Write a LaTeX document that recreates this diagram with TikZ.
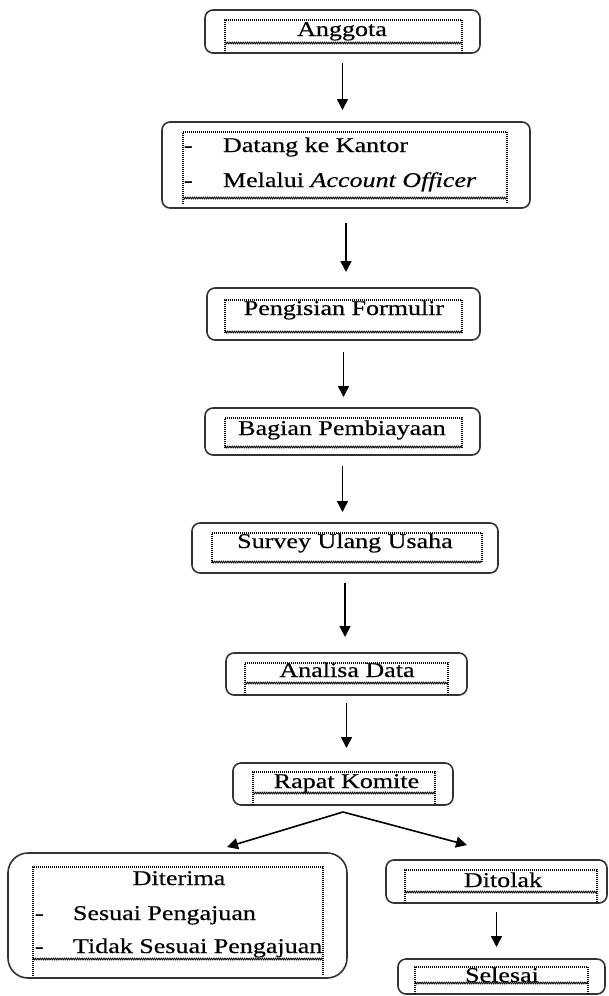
\documentclass[tikz,border=0pt]{standalone}
\usepackage{fontspec}
\setmainfont{Liberation Serif}[FakeStretch=1.24, FakeBold=0.4,
  ItalicFont=Liberation Serif Italic, ItalicFeatures={FakeStretch=1.24, FakeBold=0.4}]
\usetikzlibrary{arrows.meta,decorations.pathmorphing}
\begin{document}
\begin{tikzpicture}[x=1pt,y=-1pt,
  obox/.style={draw=black!80, line width=1.6pt, rounded corners=8pt, inner sep=0pt, outer sep=0pt},
  txt/.style={inner sep=0pt, outer sep=0pt, font=\fontsize{21}{25}\selectfont},
  frm/.style={line width=1.1pt, dash pattern=on 1pt off 1pt, black},
  wav/.style={line width=0.8pt, black, decorate, decoration={zigzag, amplitude=0.9pt, segment length=2.2pt}},
  arr/.style={line width=1.6pt, -{Triangle[length=11pt,width=11pt]}}]
\useasboundingbox (0,0) rectangle (609,996);

% outer boxes
\node[obox, minimum width=275pt, minimum height=43pt] (anggota) at (342.5,31.5) {};
\node[obox, minimum width=368pt, minimum height=86pt] (datang) at (346,165) {};
\node[obox, minimum width=273pt, minimum height=52pt] (isi) at (343.5,314) {};
\node[obox, minimum width=275pt, minimum height=47pt] (bagian) at (342.5,431.5) {};
\node[obox, minimum width=306pt, minimum height=50pt] (survey) at (345,548) {};
\node[obox, minimum width=241pt, minimum height=42pt] (analisa) at (346.5,674) {};
\node[obox, minimum width=220pt, minimum height=42pt] (rapat) at (343,784) {};
\node[obox, rounded corners=20pt, minimum width=339pt, minimum height=125pt] (terima) at (177.5,915.5) {};
\node[obox, minimum width=221pt, minimum height=43pt] (tolak) at (496.5,881.5) {};
\node[obox, minimum width=207pt, minimum height=35pt] (selesai) at (501.5,976.5) {};

% dotted text frames
\foreach \l/\r/\t/\w/\b in {225/462/20/43/53, 183/507/132/198/204, 225/462/300/332/333,
  225/462/418/447/448, 212/482/533/562/563, 245/448/663/683/695, 253/435/772/793/805,
  33/323/867/959/976, 405/597/870/892/903, 415/588/967/983/994}{
  \draw[frm] (\l,\b) -- (\l,\t) -- (\r,\t) -- (\r,\b);
  \draw[wav] (\l,\w) -- (\r,\w);
}

% texts
\node[txt, anchor=base] (t1) at (342,36) {Anggota};
\node[txt, anchor=base west] (d2a) at (184,152) {-};
\node[txt, anchor=base west] (t2a) at (223,152) {Datang ke Kantor};
\node[txt, anchor=base west] (d2b) at (184,187) {-};
\node[txt, anchor=base west] (t2b) at (223,187) {Melalui \textit{Account Officer}};
\node[txt, anchor=base] (t3) at (344,315) {Pengisian Formulir};
\node[txt, anchor=base] (t4) at (342,435) {Bagian Pembiayaan};
\node[txt, anchor=base] (t5) at (345,548) {Survey Ulang Usaha};
\node[txt, anchor=base] (t6) at (347,677) {Analisa Data};
\node[txt, anchor=base] (t7) at (346.5,788) {Rapat Komite};
\node[txt, anchor=base] (t8) at (179,885) {Diterima};
\node[txt, anchor=base west] (d8a) at (35,920) {-};
\node[txt, anchor=base west] (t8a) at (73,920) {Sesuai Pengajuan};
\node[txt, anchor=base west] (d8b) at (35,953) {-};
\begin{scope}
  \clip (33,930) rectangle (323,975);
  \node[txt, anchor=base west] (t8b) at (73,953) {Tidak Sesuai Pengajuan};
\end{scope}
\node[txt, anchor=base] (t9) at (503,887) {Ditolak};
\node[txt, anchor=base] (t10) at (502,982) {Selesai};

% connectors
\draw[arr, shorten <=10pt, shorten >=12pt] (anggota.south) -- (anggota.south |- datang.north);
\draw[arr, shorten <=15pt, shorten >=16pt] (datang.south) -- (datang.south |- isi.north);
\draw[arr, shorten <=12pt, shorten >=11pt] (isi.south) -- (isi.south |- bagian.north);
\draw[arr, shorten <=11pt, shorten >=11pt] (bagian.south) -- (bagian.south |- survey.north);
\draw[arr, shorten <=10pt, shorten >=16pt] (survey.south) -- (survey.south |- analisa.north);
\draw[arr, shorten <=8pt, shorten >=15pt] (analisa.south) -- (analisa.south |- rapat.north);
\coordinate (apex) at ([yshift=-7pt]rapat.south);
\coordinate (ltip) at (227,847);
\coordinate (rtip) at (467,845);
\draw[arr] (apex) -- (ltip);
\draw[arr] (apex) -- (rtip);
\draw[arr, shorten <=9pt, shorten >=12pt] (tolak.south) -- (tolak.south |- selesai.north);
\end{tikzpicture}
\end{document}
